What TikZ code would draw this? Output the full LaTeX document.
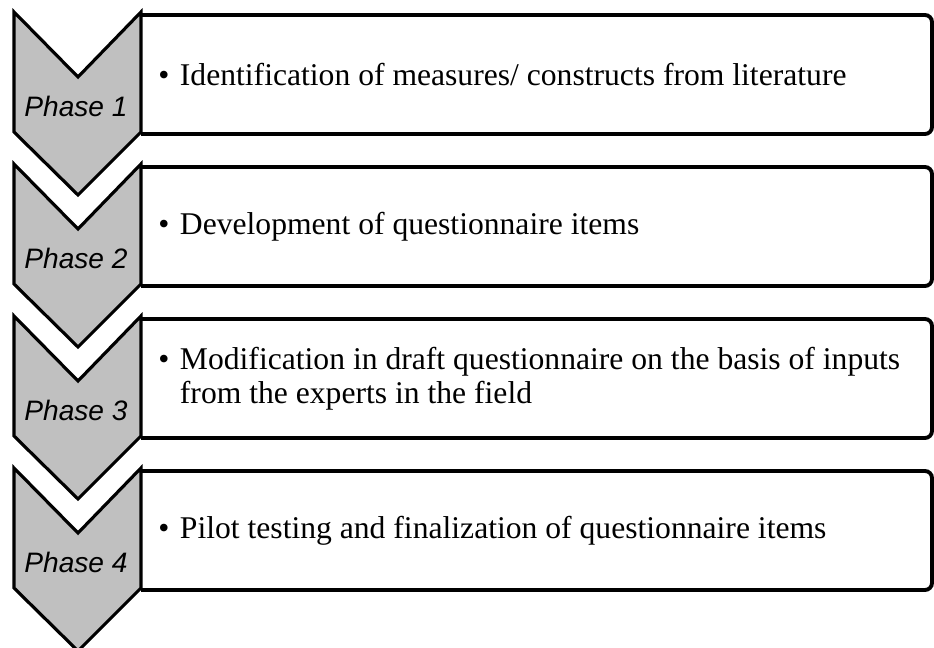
\documentclass[tikz,border=0pt]{standalone}
\usepackage{fontspec}
\setmainfont{Liberation Serif}
\newfontfamily\phasefont{Liberation Sans}
\usetikzlibrary{positioning}
\definecolor{phasegray}{RGB}{192,192,192}

\begin{document}
\begin{tikzpicture}[x=0.02cm, y=-0.02cm,
    chevron/.style={draw=black, fill=phasegray, line width=1.8pt},
    stepframe/.style={draw=black, line width=2.2pt, rounded corners=4pt},
    phase/.style={font=\phasefont\itshape\fontsize{16}{18}\selectfont, inner sep=0pt},
    item/.style={font=\fontsize{18}{19}\selectfont, inner sep=0pt, anchor=west, align=left}
]
    \useasboundingbox (0,0) rectangle (934,648);

    % frames
    \draw[stepframe] (141,15) -- (932,15) -- (932,134) -- (141,134);
    \draw[stepframe] (141,167) -- (932,167) -- (932,286) -- (141,286);
    \draw[stepframe] (141,319) -- (932,319) -- (932,438) -- (141,438);
    \draw[stepframe] (141,471) -- (932,471) -- (932,590) -- (141,590);

    % chevrons
    \draw[chevron] (14,12) -- (78,77) -- (141,12) -- (141,132) -- (78,195) -- (14,132) -- cycle;
    \draw[chevron] (14,164) -- (78,229) -- (141,164) -- (141,284) -- (78,347) -- (14,284) -- cycle;
    \draw[chevron] (14,316) -- (78,381) -- (141,316) -- (141,436) -- (78,499) -- (14,436) -- cycle;
    \draw[chevron] (14,468) -- (78,533) -- (141,468) -- (141,588) -- (78,651) -- (14,588) -- cycle;

    \node[phase] (phaseone) at (76,106) {Phase 1};
    \node[phase] (phasetwo) at (76,258) {Phase 2};
    \node[phase] (phasethree) at (76,410) {Phase 3};
    \node[phase] (phasefour) at (76,562) {Phase 4};

    \node[item] (itemone) at (158,75) {\textbullet\hspace{6pt}Identification of measures/ constructs from literature};
    \node[item] (itemtwo) at (158,227) {\textbullet\hspace{6pt}Development of questionnaire items};
    \node[item] (itemthree) at (158,380) {\begin{tabular}{@{}l@{\hspace{6pt}}l@{}}
        \textbullet & Modification in draft questionnaire on the basis of inputs\\
        & from the experts in the field
    \end{tabular}};
    \node[item] (itemfour) at (158,531) {\textbullet\hspace{6pt}Pilot testing and finalization of questionnaire items};
\end{tikzpicture}
\end{document}
